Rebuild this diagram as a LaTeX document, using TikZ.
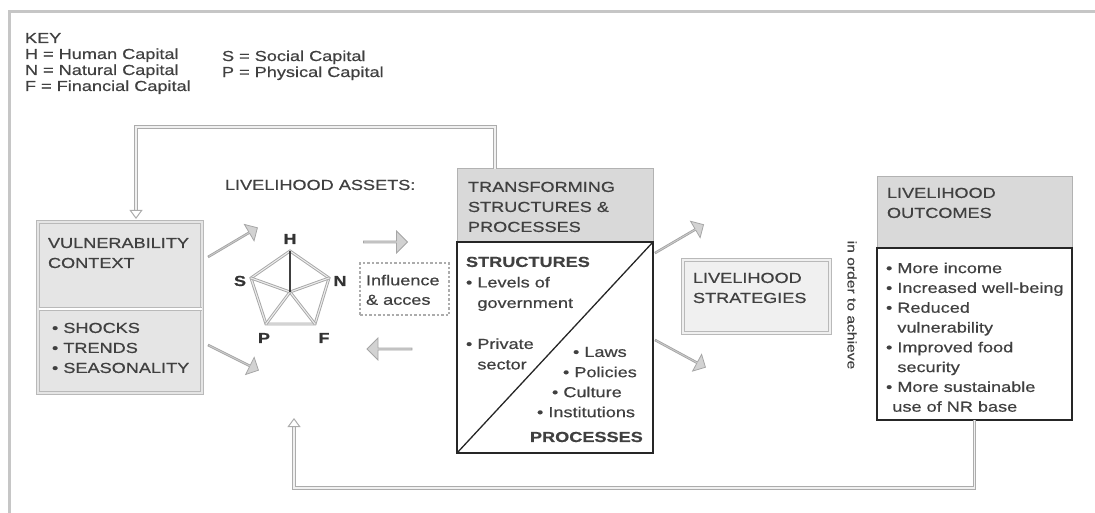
\documentclass[tikz,border=0pt]{standalone}
\usepackage{fontspec}
\setmainfont[FakeStretch=1.25, FakeBold=0.6]{Liberation Sans}
\usetikzlibrary{arrows.meta,shapes.arrows,calc}
\begin{document}
\begin{tikzpicture}[x=1pt,y=-1pt,
  txt/.style={inner sep=0pt, outer sep=0pt, text=black!75, font=\fontsize{14.5}{20}\selectfont, align=left, anchor=north west},
  keytxt/.style={txt, font=\fontsize{14.5}{16}\selectfont},
  lbl/.style={inner sep=0pt, text=black!80, font=\fontsize{14.5}{16}\selectfont\bfseries},
  region/.style={inner sep=0pt, outer sep=0pt, anchor=north west},
  graybox/.style={region, fill=gray!20, draw=gray!55, double=gray!20, double distance=1.5pt, line width=0.8pt},
  headbox/.style={region, fill=gray!30, draw=gray!60, line width=1pt},
  bodybox/.style={region, draw=black!85, line width=1.6pt},
  feedback/.style={draw=gray!65, double=gray!12, double distance=1.6pt, line width=1pt},
  fbtip/.style={-{Triangle[open, width=13pt, length=9pt]}},
  penta/.style={draw=gray!70, double=gray!15, double distance=1.1pt, line width=0.9pt},
  blockarrow/.style={single arrow, draw=gray!70, fill=gray!35, line width=0.8pt, minimum width=22pt, single arrow head extend=4pt, single arrow head indent=0pt, inner sep=0pt, minimum height=52pt},
  framel/.style={draw=gray!45, line width=3pt}
]
\useasboundingbox (0,0) rectangle (1095,513);

% outer frame
\draw[framel] (9,513) -- (9,12) -- (1095,12);

% key
\node[keytxt] (key) at (25,33) {KEY\\H = Human Capital\\N = Natural Capital\\F = Financial Capital};
\node[keytxt] (key2) at (222,50.5) {S = Social Capital\\P = Physical Capital};

% vulnerability context
\node[graybox, minimum width=164pt, minimum height=171pt] (vuln) at (38,222) {};
\draw[draw=gray!55, double=white, double distance=1.5pt, line width=0.8pt] (38.5,309) -- (201.5,309);
\node[txt] (vulntitle) at (48,238) {VULNERABILITY\\CONTEXT};
\node[txt] (vulnlist) at (52,322.8) {• SHOCKS\\• TRENDS\\• SEASONALITY};

% livelihood assets
\node[txt] (assets) at (225,179.8) {LIVELIHOOD ASSETS:};
\coordinate (pH) at (290,251);
\coordinate (pN) at (329,278);
\coordinate (pF) at (315,324);
\coordinate (pP) at (266,324);
\coordinate (pS) at (251,278);
\coordinate (pC) at (290,292);
\draw[penta] (pH) -- (pN) -- (pF) -- (pP) -- (pS) -- cycle;
\draw[penta] (pC) -- (pN);
\draw[penta] (pC) -- (pF);
\draw[penta] (pC) -- (pP);
\draw[penta] (pC) -- (pS);
\draw[black!75, line width=1.2pt] (pC) -- (pH);
\node[lbl] (lH) at (290,239) {H};
\node[lbl] (lS) at (240,281) {S};
\node[lbl] (lN) at (340,281) {N};
\node[lbl] (lP) at (264,338) {P};
\node[lbl] (lF) at (324,338) {F};

% influence & access
\node[region, draw=gray!65, dotted, line width=2.5pt, minimum width=89pt, minimum height=52pt] (infl) at (360,263) {};
\node[txt, font=\fontsize{14.5}{19.5}\selectfont] (infltxt) at (366,274.8) {Influence\\\& acces};

% block arrows
\node[blockarrow, minimum height=44pt] (arrR) at (385,242) {};
\node[blockarrow, minimum height=45pt, rotate=180] (arrL) at (390,349) {};
\node[blockarrow, minimum height=57pt, minimum width=19pt, rotate=30.6] (d1) at (232.5,242.5) {};
\node[blockarrow, minimum height=56pt, minimum width=19pt, rotate=-26.6] (d2) at (233,357.5) {};
\node[blockarrow, minimum height=56pt, minimum width=19pt, rotate=30.3] (d3) at (679,239) {};
\node[blockarrow, minimum height=57pt, minimum width=19pt, rotate=-28.4] (d4) at (680,353.5) {};

% transforming structures & processes
\node[headbox, minimum width=196pt, minimum height=73pt] (transhead) at (457,169) {};
\node[bodybox, minimum width=196pt, minimum height=211pt] (transbody) at (457,242) {};
\draw[black!85, line width=1.3pt] (transbody.south west) -- (transbody.north east);
\node[txt] (transtitle) at (468,181.8) {TRANSFORMING\\STRUCTURES \&\\PROCESSES};
\node[txt, font=\fontsize{14.5}{20.5}\selectfont] (structs) at (466,256.8) {\textbf{STRUCTURES}\\•~Levels of\\\phantom{•~}government\\[20.5pt]•~Private\\\phantom{•~}sector};
\node[txt, anchor=west] (laws) at (573,352) {•~Laws};
\node[txt, anchor=west] (policies) at (563,372) {•~Policies};
\node[txt, anchor=west] (culture) at (552,392) {•~Culture};
\node[txt, anchor=west] (instit) at (537,412) {•~Institutions};
\node[txt, anchor=west, font=\fontsize{14.5}{20}\selectfont\bfseries] (procs) at (530,437) {PROCESSES};

% livelihood strategies
\node[graybox, fill=gray!12, double=gray!12, minimum width=147pt, minimum height=73pt] (strat) at (683,260) {};
\node[txt] (strattxt) at (693,272.8) {LIVELIHOOD\\STRATEGIES};

% in order to achieve
\node[inner sep=0pt, text=black!75, font=\fontsize{12.5}{14}\selectfont, rotate=-90] (achieve) at (852,305) {in order to achieve};

% livelihood outcomes
\node[headbox, minimum width=195pt, minimum height=71pt] (outhead) at (877,177) {};
\node[bodybox, minimum width=195pt, minimum height=172pt] (outbody) at (877,248) {};
\node[txt] (outtitle) at (887,187.8) {LIVELIHOOD\\OUTCOMES};
\node[txt, font=\fontsize{14.5}{19.8}\selectfont] (outlist) at (886,262.6) {•~More income\\•~Increased well-being\\•~Reduced\\\phantom{•~}vulnerability\\•~Improved food\\\phantom{•~}security\\•~More sustainable\\\phantom{•}use of NR base};

% feedback loops
\coordinate (topstart) at ($(transhead.north west)+(38,0)$);
\coordinate (vulntop) at ($(vuln.north west)+(98,-3)$);
\draw[feedback, fbtip] (topstart) -- (topstart |- 0,127) -- (vulntop |- 0,127) -- (vulntop);
\coordinate (assetsin) at (294,418);
\draw[feedback, fbtip] (outbody.south) -- (outbody.south |- 0,488) -- (assetsin |- 0,488) -- (assetsin);
\end{tikzpicture}
\end{document}
